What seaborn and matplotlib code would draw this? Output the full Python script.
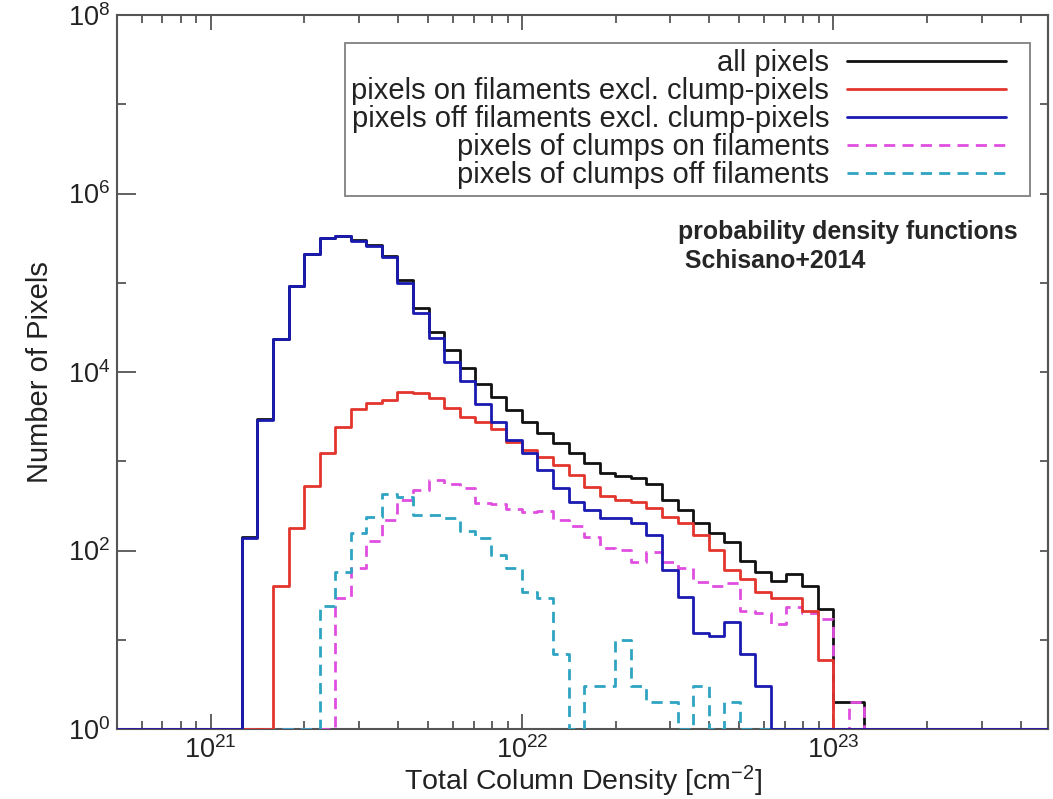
import numpy as np
import pandas as pd
import matplotlib
matplotlib.use("Agg")
import matplotlib.pyplot as plt
import seaborn as sns
from matplotlib.ticker import FixedLocator, NullFormatter, LogLocator, LogFormatterSciNotation
from matplotlib.legend_handler import HandlerLine2D
from matplotlib.lines import Line2D

# histogram bins: 0.05 dex wide, first edge at 10^21.1
bin_start = 21.10
bin_width = 0.05
pad_left, pad_right = 8, 12   # empty bins drawn along the baseline up to the frame

all_pixels = [140, 2950, 23500, 92500, 211000, 320000, 338000, 298000, 263000, 199000,
              107000, 52100, 28100, 17600, 11100, 7340, 5250, 3750, 2750, 2070,
              1600, 1240, 956, 739, 684, 649, 556, 368, 284, 203,
              157, 125, 76, 57, 46, 55, 40, 22, 2, 2]
on_filaments = [1, 1, 40, 179, 528, 1240, 2420, 3850, 4500, 4860,
                5970, 5820, 5110, 3950, 3130, 2750, 2300, 1640, 1340, 1115,
                908, 701, 515, 408, 368, 349, 299, 237, 203, 149,
                101, 60, 48, 34, 29, 29, 21, 6, 1, 1]
off_filaments = [138, 2900, 23400, 92000, 210000, 317000, 334000, 294000, 258000, 194000,
                 99000, 45800, 24000, 12900, 7900, 4380, 2750, 1730, 1240, 798,
                 501, 349, 284, 231, 231, 203, 149, 60, 30, 12,
                 11, 16, 7, 3, 1, 1, 1, 1, 1, 1]
clumps_on = [1, 1, 1, 1, 1, 1, 29, 64, 128, 220,
             368, 476, 617, 556, 501, 341, 332, 292, 270, 277,
             220, 188, 142, 107, 101, 74, 96, 74, 64, 44,
             40, 43, 21, 20, 15, 23, 20, 17, 1, 2]
clumps_off = [1, 1, 1, 1, 1, 24, 57, 157, 237, 430,
              398, 250, 250, 231, 165, 138, 89, 64, 34, 29,
              7, 1, 3, 3, 10, 3, 2, 2, 1, 3,
              1, 2, 1, 1, 1, 1, 1, 1, 1, 1]

labels = ["all pixels",
          "pixels on filaments excl. clump-pixels",
          "pixels off filaments excl. clump-pixels",
          "pixels of clumps on filaments",
          "pixels of clumps off filaments"]
series = [all_pixels, on_filaments, off_filaments, clumps_on, clumps_off]
colors = ["#111111", "#e2352d", "#1a1ab0", "#e04ee0", "#2ea3c2"]
styles = ["-", "-", "-", (0, (4, 2.6)), (0, (4, 2.6))]
zorders = [3.0, 3.3, 3.4, 3.1, 3.2]

n_bins = len(all_pixels) + pad_left + pad_right
log_edges = np.round(bin_start - pad_left * bin_width + bin_width * np.arange(n_bins + 1), 2)
edges = 10.0 ** log_edges
centers = np.sqrt(edges[:-1] * edges[1:])

sns.set_theme(style="ticks")
plt.rcParams["font.family"] = ["Liberation Sans", "DejaVu Sans"]
plt.rcParams["mathtext.fontset"] = "custom"
plt.rcParams["mathtext.rm"] = "Liberation Sans"
plt.rcParams["mathtext.it"] = "Liberation Sans:italic"
plt.rcParams["mathtext.bf"] = "Liberation Sans:bold"

fig = plt.figure(figsize=(10.53, 7.99), dpi=100)
ax = fig.add_axes([117 / 1053, 1 - 729 / 799, 931 / 1053, 714 / 799])

for counts, lab, col, ls, z in zip(series, labels, colors, styles, zorders):
    df = pd.DataFrame({
        "density": centers,
        "pixels": np.concatenate([np.ones(pad_left), counts, np.ones(pad_right)]),
    })
    # bins as a list: seaborn 0.13 compares bins == "auto" when weights are used
    sns.histplot(data=df, x="density", weights="pixels", bins=list(edges), element="step",
                 fill=False, color=col, linewidth=2.0, linestyle=ls, zorder=z, ax=ax)

ax.set_xscale("log")
ax.set_yscale("log")
ax.set_xlim(5.0e20, 4.9e23)
ax.set_ylim(1, 1e8)

ax.yaxis.set_major_locator(FixedLocator([1e0, 1e2, 1e4, 1e6, 1e8]))
ax.yaxis.set_minor_locator(FixedLocator([1e1, 1e3, 1e5, 1e7]))
ax.yaxis.set_major_formatter(LogFormatterSciNotation())
ax.yaxis.set_minor_formatter(NullFormatter())
ax.xaxis.set_major_locator(LogLocator(base=10))
ax.xaxis.set_minor_locator(LogLocator(base=10, subs=np.arange(2, 10)))
ax.xaxis.set_minor_formatter(NullFormatter())

ax.tick_params(which="both", direction="in", top=True, right=False,
               color="#555555", labelcolor="#222222", labelsize=19.5, width=1.3)
ax.tick_params(axis="y", which="major", length=14, pad=5)
ax.tick_params(axis="y", which="minor", length=6.5)
ax.tick_params(axis="x", which="major", length=10.5, pad=5)
ax.tick_params(axis="x", which="minor", length=6)
for s in ax.spines.values():
    s.set_color("#555555")
    s.set_linewidth(1.5)

# short ticks on the right-hand frame
axr = ax.secondary_yaxis("right")
axr.yaxis.set_major_locator(FixedLocator([10.0 ** k for k in range(9)]))
axr.yaxis.set_minor_locator(FixedLocator([]))
axr.tick_params(direction="in", length=6, width=1.3, color="#555555", labelright=False)
axr.spines["right"].set_color("#555555")
axr.spines["right"].set_linewidth(1.5)

ax.set_xlabel("Total Column Density [cm$^{-2}$]", fontsize=20.5, color="#222222", labelpad=0)
ax.set_ylabel("Number of Pixels", fontsize=21, color="#222222", labelpad=10)

leg = ax.legend(handles=list(ax.lines), labels=labels, loc="upper right",
                bbox_to_anchor=((1030 - 117) / 931, (729 - 43) / 714),
                bbox_transform=ax.transAxes, borderaxespad=0, markerfirst=False,
                numpoints=2, handler_map={Line2D: HandlerLine2D(marker_pad=0.62)},
                handlelength=6.66, handletextpad=0, borderpad=0.22, labelspacing=0,
                fontsize=21, fancybox=False, framealpha=1, edgecolor="#808080")
leg.get_frame().set_linewidth(1.3)
for t in leg.get_texts():
    t.set_color("#222222")

ax.text((678 - 117) / 931, (729 - 239) / 714, "probability density functions",
        transform=ax.transAxes, fontsize=17.9, fontweight="bold", va="baseline", ha="left")
ax.text((678 - 117) / 931, (729 - 268) / 714, " Schisano+2014",
        transform=ax.transAxes, fontsize=17.9, fontweight="bold", va="baseline", ha="left")

fig.savefig("out.png", dpi=100)
